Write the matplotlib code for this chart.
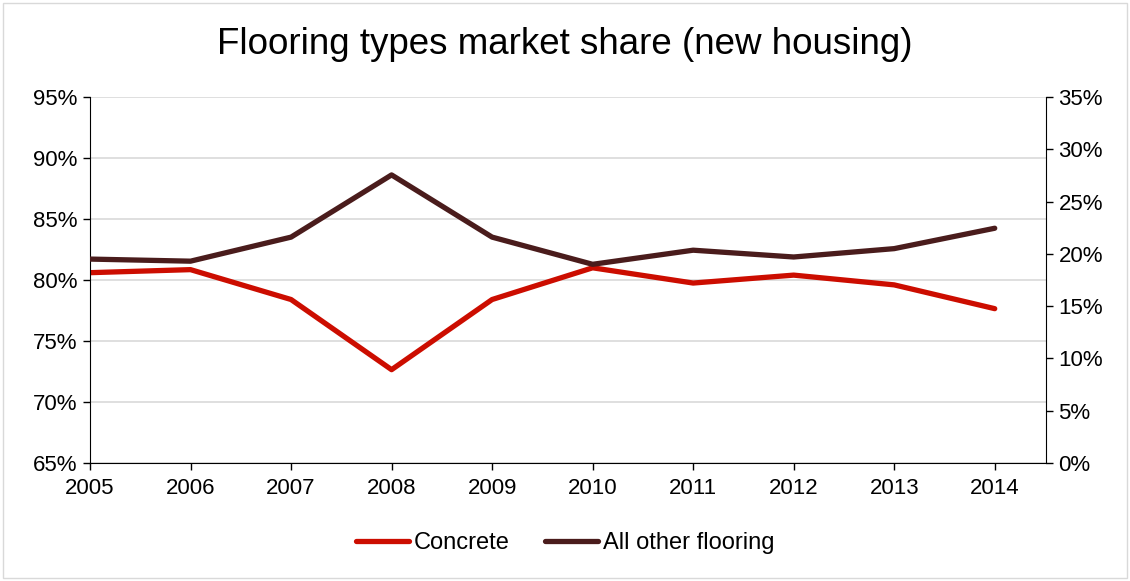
import numpy as np
import matplotlib.pyplot as plt
from matplotlib.patches import Rectangle

plt.rcParams['font.family'] = ['Liberation Sans', 'DejaVu Sans']

years = [2005, 2006, 2007, 2008, 2009, 2010, 2011, 2012, 2013, 2014]
concrete = [80.6, 80.85, 78.4, 72.65, 78.4, 81.0, 79.75, 80.4, 79.6, 77.65]
other = [19.5, 19.3, 21.6, 27.55, 21.6, 19.0, 20.35, 19.7, 20.5, 22.45]

fig = plt.figure(figsize=(11.30, 5.81), dpi=100)
ax = fig.add_axes([90/1130, 1-463/581, (1046-90)/1130, (463-97)/581])
ax2 = ax.twinx()

l1, = ax.plot(years, concrete, color='#CC0D00', lw=3.8, solid_capstyle='round', label='Concrete')
l2, = ax2.plot(years, other, color='#4A1C1C', lw=3.8, solid_capstyle='round', label='All other flooring')

ax.set_xlim(2005, 2014.51)
ax.set_ylim(65, 95)
ax2.set_ylim(0, 35)
ax.set_xticks(years)
ax.set_yticks(np.arange(65, 96, 5))
ax2.set_yticks(np.arange(0, 36, 5))
ax.set_yticklabels([f'{v}%' for v in range(65, 96, 5)])
ax2.set_yticklabels([f'{v}%' for v in range(0, 36, 5)])
ax.yaxis.grid(True, color='#D9D9D9', lw=1.2)
ax.set_axisbelow(True)

for a in (ax, ax2):
    a.spines['top'].set_visible(False)
    a.tick_params(labelsize=16, length=5, width=1, color='black', pad=4)
ax.spines['right'].set_visible(False)
ax2.spines['bottom'].set_visible(False)
ax2.spines['left'].set_visible(False)
ax.tick_params(axis='x', pad=6)

fig.text(0.5, 1-45/581, 'Flooring types market share (new housing)', ha='center', va='center', fontsize=26.5)

fig.legend(handles=[l1, l2], loc='center', bbox_to_anchor=(0.5, 1-543/581), ncol=2,
           frameon=False, fontsize=17, handlelength=2.25, handletextpad=0.2, columnspacing=1.5)

fig.patches.append(Rectangle((3/1130, 3/581), 1124/1130, 575/581, transform=fig.transFigure,
                             fill=False, edgecolor='#D9D9D9', lw=1))

fig.savefig('out.png', dpi=100)
